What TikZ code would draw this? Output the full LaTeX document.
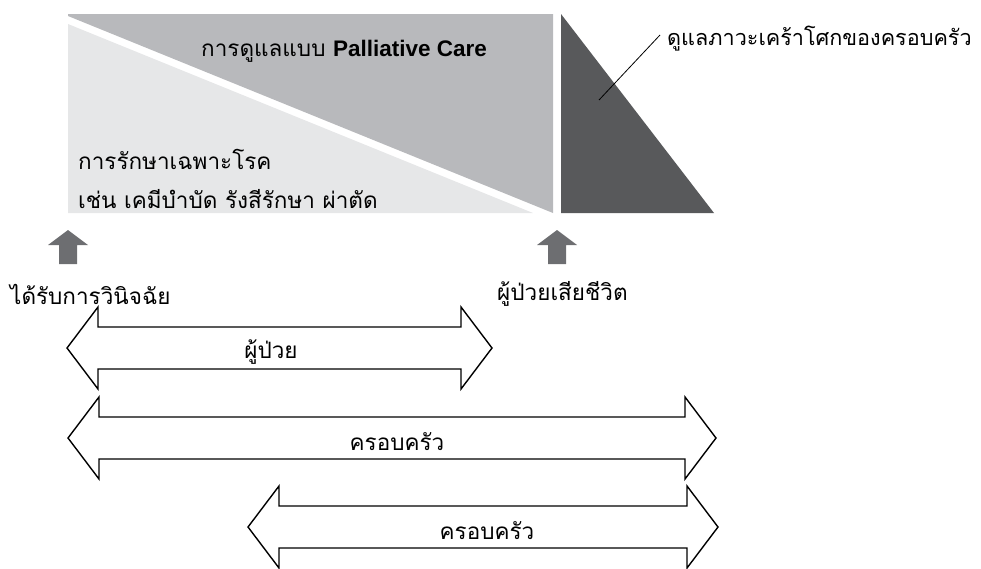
\documentclass[tikz,border=0pt]{standalone}
\usepackage{fontspec}
\setmainfont[Script=Thai]{Loma}
\newfontfamily\latinfont{Liberation Sans}

\definecolor{careGray}{HTML}{B8B9BC}
\definecolor{cureGray}{HTML}{E6E7E8}
\definecolor{griefGray}{HTML}{58595B}
\definecolor{markGray}{HTML}{6D6E71}

\tikzset{
  label/.style={inner sep=0pt, font=\fontsize{22.5}{26}\selectfont},
  span/.style={draw=black, fill=white, line width=1.4pt, line join=miter}
}

% double arrow: left tip x, right tip x, centre y
\newcommand{\spanarrow}[3]{%
  \draw[span] (#1,#3) -- (#1+31,#3-41) -- (#1+31,#3-21) -- (#2-31,#3-21)
    -- (#2-31,#3-41) -- (#2,#3) -- (#2-31,#3+41) -- (#2-31,#3+21)
    -- (#1+31,#3+21) -- (#1+31,#3+41) -- cycle;}

% up block arrow: centre x
\newcommand{\timemark}[1]{%
  \fill[markGray] (#1-9,264) -- (#1-9,245) -- (#1-20,245) -- (#1,230)
    -- (#1+20,245) -- (#1+9,245) -- (#1+9,264) -- cycle;}

\begin{document}
\begin{tikzpicture}[x=1pt, y=-1pt]

    \useasboundingbox (0,0) rectangle (981,568);

    %% Care phases

    % Treatment and palliative care
    \fill[cureGray] (68,24) -- (533,213) -- (68,213) -- cycle;
    \fill[careGray] (68,14) -- (553,14) -- (553,213) -- (68,16) -- cycle;
    \node[label, anchor=west] (care) at (201,51) {การดูแลแบบ {\latinfont\bfseries Palliative Care}};
    \node[label, anchor=west] (cure) at (78,159) {การรักษาเฉพาะโรค};
    \node[label, anchor=west] (cureex) at (78,199) {เช่น เคมีบำบัด รังสีรักษา ผ่าตัด};

    % Bereavement
    \fill[griefGray] (561,14) -- (714,213) -- (561,213) -- cycle;
    \coordinate (griefpt) at (599,100);
    \node[label, font=\fontsize{21.6}{26}\selectfont, anchor=west] (grief) at (667,39) {ดูแลภาวะเคร้าโศกของครอบครัว};
    \draw[line width=0.8pt] (griefpt) -- ([xshift=-7pt, yshift=4pt]grief.west);

    %% Time points
    \timemark{68}
    \timemark{557}
    \node[label, anchor=west] (diag) at (10,294) {ได้รับการวินิจฉัย};
    \node[label, anchor=west] (death) at (497,294) {ผู้ป่วยเสียชีวิต};

    %% Who is cared for
    \spanarrow{67}{492}{348}
    \node[label] (patient) at (271,352) {ผู้ป่วย};
    \spanarrow{68}{716}{438}
    \node[label] (family) at (397,442) {ครอบครัว};
    \spanarrow{248}{718}{527}
    \node[label] (familylate) at (487,531) {ครอบครัว};

\end{tikzpicture}
\end{document}
